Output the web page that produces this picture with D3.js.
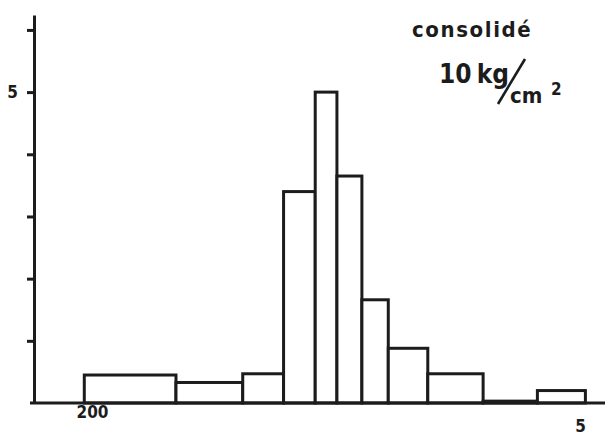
<!DOCTYPE html>
<html>
<head>
<meta charset="utf-8">
<script src="https://d3js.org/d3.v7.min.js"></script>
<style>
  body { margin: 0; background: #fff; }
  text { font-family: "DejaVu Sans Condensed", "DejaVu Sans", sans-serif; font-stretch: condensed; font-weight: bold; fill: #1c1c1c; }
</style>
</head>
<body>
<svg width="605" height="436"></svg>
<script>
// class edges (200 -> 5) and bar heights
const edges = [212, 106, 64, 47, 37, 31.4, 26, 21.3, 15.8, 10.4, 6.9, 4.8];
const heights = [0.45, 0.33, 0.47, 3.4, 5.0, 3.65, 1.66, 0.88, 0.47, 0.03, 0.2];
const yTicks = [1, 2, 3, 4, 5, 6];
const yLabels = {5: "5"};
const xTicks = [200, 5];

const ink = "#1c1c1c";
const svg = d3.select("svg");

const x = d3.scaleLog().domain([200, 5]).range([92, 580]);
const y = d3.scaleLinear().domain([0, 6.24]).range([403, 15]);

const bins = heights.map((h, i) => ({x0: edges[i], x1: edges[i + 1], h: h}));

// bars
svg.append("g").selectAll("rect")
    .data(bins)
    .enter()
    .append("rect")
    .attr("x", d => x(d.x0))
    .attr("width", d => x(d.x1) - x(d.x0))
    .attr("y", d => y(d.h))
    .attr("height", d => y(0) - y(d.h))
    .attr("fill", "white")
    .attr("stroke", ink)
    .attr("stroke-width", 3);

// y axis
const yAxis = svg.append("g")
    .attr("transform", "translate(34,0)")
    .call(d3.axisLeft(y).tickValues(yTicks).tickSize(7).tickSizeOuter(0)
        .tickFormat(d => yLabels[d] || ""));
yAxis.select(".domain").attr("stroke", ink).attr("stroke-width", 3);
yAxis.selectAll(".tick line").attr("stroke", ink).attr("stroke-width", 3);
yAxis.selectAll(".tick text").attr("x", -16).style("font-size", "17px");

// x axis baseline
svg.append("line")
    .attr("x1", 30).attr("x2", 605)
    .attr("y1", y(0)).attr("y2", y(0))
    .attr("stroke", ink).attr("stroke-width", 3);

const xAxis = svg.append("g")
    .attr("transform", "translate(0," + y(0) + ")")
    .call(d3.axisBottom(x).tickValues(xTicks).tickSize(0).tickPadding(0)
        .tickFormat(d3.format("d")));
xAxis.select(".domain").remove();
xAxis.selectAll(".tick text").style("font-size", "17px")
    .attr("dy", null)
    .attr("y", d => d === 5 ? 29 : 15);

// annotation
svg.append("text").attr("x", 412).attr("y", 37)
    .style("font-size", "22px").style("letter-spacing", "1.6px")
    .text("consolidé");
svg.append("text").attr("x", 439).attr("y", 83)
    .style("font-size", "26px").style("word-spacing", "-3px")
    .text("10 kg");
svg.append("line")
    .attr("x1", 525).attr("y1", 59).attr("x2", 498).attr("y2", 104)
    .attr("stroke", ink).attr("stroke-width", 2.6);
svg.append("text").attr("x", 510).attr("y", 103)
    .style("font-size", "22px").text("cm");
svg.append("text").attr("x", 551).attr("y", 95)
    .style("font-size", "17px").text("2");
</script>
</body>
</html>
